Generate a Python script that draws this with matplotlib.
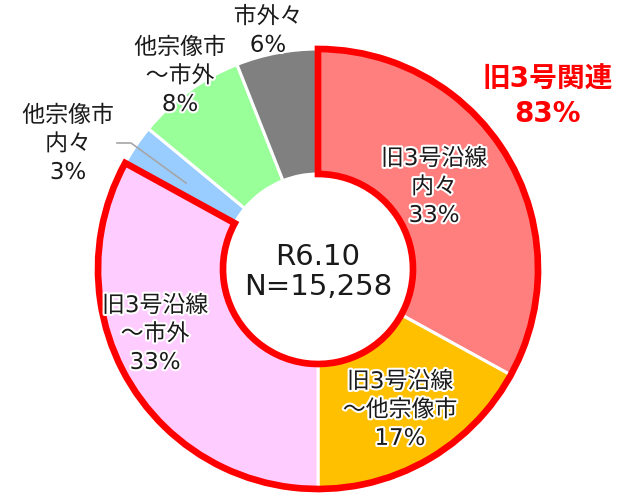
import matplotlib
matplotlib.use("Agg")
import matplotlib.pyplot as plt
import matplotlib.patheffects as pe
from matplotlib.patches import Wedge

FONT = ['DejaVu Sans', 'Noto Sans CJK JP']
plt.rcParams['font.family'] = FONT

categories = ["旧3号沿線\n内々", "旧3号沿線\n～他宗像市", "旧3号沿線\n～市外",
              "他宗像市\n内々", "他宗像市\n～市外", "市外々"]
values = [33, 17, 33, 3, 8, 6]
colors = ["#FF7F7F", "#FFC000", "#FFCCFF", "#99CCFF", "#99FF99", "#808080"]
group_label = "旧3号関連"
group_n = 3  # first three slices form the group
center_text = "R6.10\nN=15,258"

W, H = 627, 494
fig = plt.figure(figsize=(W / 100, H / 100), dpi=100)
ax = fig.add_axes([0, 0, 1, 1])

cx, cy = 318, H - 269
R, r_in = 220, 95

ax.pie(values, colors=colors, startangle=90, counterclock=False,
       center=(cx, cy), radius=R,
       wedgeprops=dict(width=R - r_in, edgecolor="white", linewidth=2.2))

# red outline around the group
total = sum(values)
grp = sum(values[:group_n])
end_angle = 90 - 360 * grp / total
ax.add_patch(Wedge((cx, cy), R, end_angle, 90, width=R - r_in, fill=False,
                   edgecolor="#FF0000", linewidth=4.8, joinstyle="miter", zorder=5))

halo = [pe.withStroke(linewidth=3, foreground="white")]

# label positions in pixel coordinates (x, y from top)
label_pos = [(434, 187), (400, 410), (155, 334), (68, 144), (180, 76), (268, 31)]
for cat, v, (x, y) in zip(categories, values, label_pos):
    ax.text(x, H - y, f"{cat}\n{v}%", ha="center", va="center", fontsize=16.5,
            color="#1A1A1A", linespacing=1.3, path_effects=halo, zorder=6)

# leader line for small slice
ax.plot([117, 131, 186], [H - 143, H - 143, H - 183], color="#A6A6A6", lw=1.2, zorder=4)

ax.text(cx, H - 272, center_text, ha="center", va="center", fontsize=21,
        color="#1A1A1A", linespacing=1.12, zorder=6)

ax.text(548, H - 97, f"{group_label}\n{grp}%", ha="center", va="center",
        fontsize=20, fontweight="bold", color="#FF0000", linespacing=1.25, zorder=6)

ax.set_xlim(0, W)
ax.set_ylim(0, H)
ax.set_aspect("equal")
ax.axis("off")

fig.savefig("out.png", dpi=100)
